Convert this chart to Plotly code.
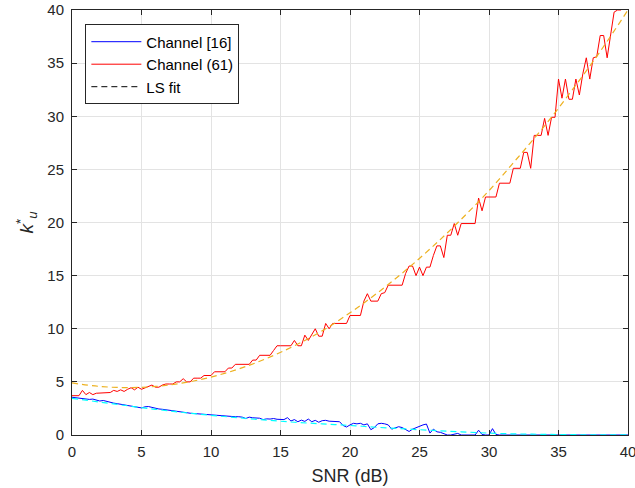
import numpy as np
import plotly.graph_objects as go

# SNR grid (dB), 0.25 dB steps
snr = np.linspace(0, 40, 161)

channel_61 = [
    3.7, 3.7, 3.7, 4.2,
    3.8, 4.0, 3.8, 3.93,
    3.93, 4.0, 3.95, 4.0,
    4.2, 4.1, 4.25, 4.1,
    4.3, 4.45, 4.25, 4.5,
    4.3, 4.45, 4.55, 4.7,
    4.5, 4.5, 4.7, 4.8,
    4.8, 4.8, 5.0, 5.0,
    5.3, 5.0, 5.0, 5.35,
    5.35, 5.35, 5.6, 5.6,
    5.6, 5.95, 5.95, 5.95,
    5.95, 6.3, 6.3, 6.65,
    6.65, 6.65, 6.65, 6.65,
    7.05, 7.05, 7.5, 7.5,
    7.5, 7.5, 7.95, 8.4,
    8.4, 8.4, 8.4, 8.4,
    8.9, 8.4, 8.4, 9.4,
    8.9, 9.4, 10.0, 9.3,
    9.3, 10.5, 10.0, 10.5,
    10.5, 10.5, 10.5, 10.5,
    11.25, 11.25, 11.25, 11.25,
    12.6, 13.3, 12.6, 12.6,
    12.6, 13.3, 13.4, 14.1,
    14.1, 14.1, 14.1, 14.1,
    15.2, 15.9, 15.9, 15.0,
    15.8, 15.0, 15.8, 15.8,
    16.9, 17.8, 17.8, 16.7,
    18.8, 18.8, 19.9, 18.8,
    19.9, 19.9, 19.9, 19.9,
    19.9, 22.3, 21.1, 22.4,
    22.4, 22.4, 22.4, 23.7,
    23.7, 23.7, 23.7, 25.1,
    25.1, 25.1, 26.6, 26.6,
    25.1, 28.2, 28.2, 28.2,
    29.8, 28.2, 29.9, 29.9,
    33.5, 31.7, 33.5, 31.6,
    31.6, 33.5, 32.0, 34.0,
    35.5, 33.5, 35.5, 35.6,
    37.6, 37.6, 35.5, 37.6,
    39.8, 40.0, 40.0, 40.5,
    40.8,
]

channel_16 = [
    3.55, 3.5, 3.45, 3.42,
    3.4, 3.35, 3.38, 3.3,
    3.2, 3.25, 3.15, 3.1,
    3.0, 2.95, 2.9, 2.85,
    2.8, 2.75, 2.72, 2.6,
    2.55, 2.65, 2.68, 2.6,
    2.5, 2.45, 2.42, 2.38,
    2.35, 2.3, 2.28, 2.2,
    2.18, 2.1, 2.05, 2.02,
    2.05, 1.97, 2.0, 1.95,
    1.92, 1.85, 1.85, 1.82,
    1.8, 1.78, 1.75, 1.72,
    1.72, 1.68, 1.55, 1.68,
    1.62, 1.6, 1.58, 1.45,
    1.52, 1.5, 1.55, 1.48,
    1.5, 1.45, 1.63, 1.32,
    1.45, 1.25, 1.4, 1.28,
    1.5, 1.25, 1.38, 1.2,
    1.35, 1.38, 1.3, 1.28,
    1.3, 1.25, 0.9, 0.75,
    0.95, 1.1, 1.05, 1.1,
    0.95, 1.05, 0.5, 0.7,
    1.05, 1.1, 1.05, 0.95,
    0.55, 0.65, 0.78, 0.7,
    0.5, 0.33, 0.55, 0.7,
    0.85, 0.95, 1.03, 0.18,
    0.55, 0.3, 0.25, 0.1,
    0.0, 0.0, 0.05, 0.15,
    0.0, 0.0, 0.0, 0.0,
    0.0, 0.45, 0.05, 0.0,
    0.0, 0.6, 0.05, 0.0,
    0.0, 0.0, 0.0, 0.0,
    0.0, 0.0, 0.0, 0.0,
    0.0, 0.0, 0.0, 0.0,
    0.0, 0.0, 0.0, 0.0,
    0.0, 0.0, 0.0, 0.0,
    0.0, 0.0, 0.0, 0.0,
    0.0, 0.0, 0.0, 0.0,
    0.0, 0.0, 0.0, 0.0,
    0.0, 0.0, 0.0, 0.0,
    0.0,
]

# LS fit curves, read at every 2 dB
fit_snr = [0, 2, 4, 6, 8, 10, 12, 14, 16, 18, 20, 22, 24, 26, 28, 30, 32, 34, 36, 38, 40]
fit_61 = [4.9, 4.57, 4.46, 4.57, 4.9, 5.45, 6.22, 7.2, 8.4, 9.8, 11.5, 13.4, 15.5,
          17.8, 20.3, 23.0, 26.0, 29.1, 32.5, 36.1, 40.0]
fit_16 = [3.45, 3.1, 2.75, 2.42, 2.12, 1.85, 1.62, 1.4, 1.2, 1.05, 0.9, 0.72, 0.57,
          0.43, 0.3, 0.18, 0.1, 0.06, 0.03, 0.02, 0.02]

x_ticks = [0, 5, 10, 15, 20, 25, 30, 35, 40]
y_ticks = [0, 5, 10, 15, 20, 25, 30, 35, 40]

FONT = "Liberation Sans, Arial, Helvetica, sans-serif"

fig = go.Figure()
fig.add_trace(go.Scatter(x=snr, y=channel_16, mode="lines", name="Channel [16]",
                         line=dict(color="#0000FF", width=1)))
fig.add_trace(go.Scatter(x=snr, y=channel_61, mode="lines", name="Channel (61)",
                         line=dict(color="#FF0000", width=1)))
fig.add_trace(go.Scatter(x=fit_snr, y=fit_16, mode="lines", showlegend=False,
                         line=dict(color="#00FFFF", width=1.2, dash="6px,4px", shape="spline")))
fig.add_trace(go.Scatter(x=fit_snr, y=fit_61, mode="lines", showlegend=False,
                         line=dict(color="#EDB120", width=1.2, dash="6px,4px", shape="spline")))
fig.add_trace(go.Scatter(x=[None], y=[None], mode="lines", name="LS fit",
                         line=dict(color="black", width=1, dash="6px,4px")))

axis_common = dict(
    showline=True, linecolor="#262626", linewidth=1, mirror="ticks",
    ticks="inside", ticklen=5, tickcolor="#262626",
    showgrid=True, gridcolor="#E3E3E3", gridwidth=1,
    zeroline=False, automargin=False, ticklabeloverflow="allow",
    tickfont=dict(family=FONT, size=15, color="#262626"),
)

fig.update_layout(
    width=635, height=488,
    margin=dict(l=72, r=7, t=10, b=53),
    plot_bgcolor="white", paper_bgcolor="white",
    font=dict(family=FONT, color="#262626"),
    xaxis=dict(range=[0, 40], tickvals=x_ticks, ticklabelstandoff=3,
               title=dict(text="SNR (dB)", font=dict(family=FONT, size=18), standoff=10),
               **axis_common),
    yaxis=dict(range=[0, 40], tickvals=y_ticks, ticklabelstandoff=4,
               title=dict(text="<i>k</i><sup>*</sup><sub><i>u</i></sub>",
                          font=dict(family=FONT, size=19), standoff=8),
               **axis_common),
    legend=dict(x=0.024, y=0.966, xanchor="left", yanchor="top",
                bgcolor="white", bordercolor="#262626", borderwidth=1,
                font=dict(family=FONT, size=15, color="black"),
                tracegroupgap=0, itemwidth=50),
    showlegend=True,
)

fig.write_html("out.html")
